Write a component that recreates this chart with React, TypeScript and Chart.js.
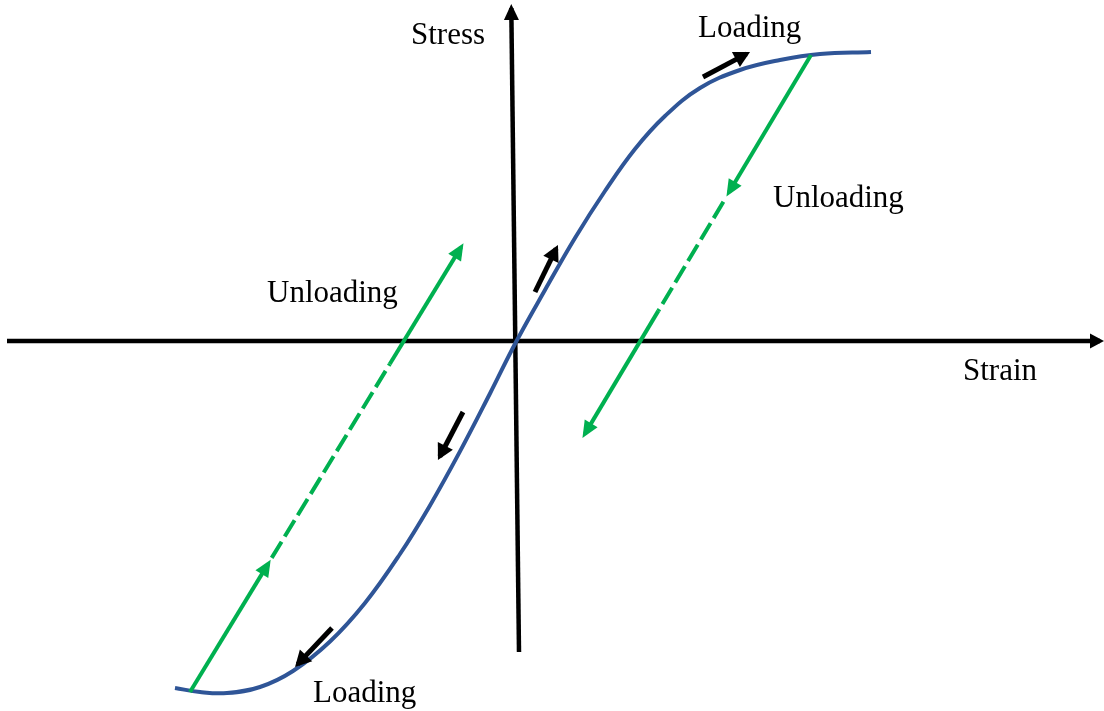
import React, { useEffect, useRef } from "react";
import { Chart, registerables } from "chart.js";

Chart.register(...registerables);

// Hysteresis curve (strain, stress) in arbitrary units
const curveStrain = [-3.41, -3.16, -2.89, -2.56, -2.23, -1.86, -1.51, -1.16, -0.86, -0.56, -0.26, 0, 0.29, 0.59, 0.89, 1.19, 1.49, 1.84, 2.24, 2.64, 3.04, 3.55];
const curveStress = [-3.47, -3.51, -3.52, -3.46, -3.3, -3.005, -2.62, -2.13, -1.644, -1.104, -0.525, -0.01, 0.51, 1.03, 1.5, 1.92, 2.25, 2.53, 2.71, 2.81, 2.87, 2.89];

// Axes
const strainAxisX = [-5.09, 5.84];
const strainAxisY = [0, 0];
const stressAxisX = [0.03, -0.047];
const stressAxisY = [-3.11, 3.33];

// Unloading path (upper right): solid, dashed, solid
const unloadUpperSolidAX = [2.95, 2.13];
const unloadUpperSolidAY = [2.86, 1.487];
const unloadUpperDashX = [2.074, 1.423];
const unloadUpperDashY = [1.392, 0.301];
const unloadUpperSolidBX = [1.423, 0.69];
const unloadUpperSolidBY = [0.301, -0.926];

// Unloading path (lower left): solid, dashed, solid
const unloadLowerSolidAX = [-3.26, -2.479];
const unloadLowerSolidAY = [-3.51, -2.229];
const unloadLowerDashX = [-2.443, -1.262];
const unloadLowerDashY = [-2.169, -0.23];
const unloadLowerSolidBX = [-1.262, -0.551];
const unloadLowerSolidBY = [-0.23, 0.936];

// Direction arrows along the loading curve
const dirArrowStartX = [1.87, 0.19, -0.53, -1.84];
const dirArrowStartY = [2.64, 0.49, -0.71, -2.87];
const dirArrowEndX = [2.305, 0.402, -0.762, -2.182];
const dirArrowEndY = [2.871, 0.924, -1.155, -3.231];

// Labels
const labelTexts = ["Stress", "Loading", "Unloading", "Unloading", "Strain", "Loading"];
const labelX = [-1.05, 1.82, 2.57, -2.49, 4.47, -2.03];
const labelY = [2.97, 3.04, 1.34, 0.39, -0.39, -3.61];

const BLUE = "#2F5597";
const GREEN = "#00B050";
const BLACK = "#000000";

const toPts = (xs: number[], ys: number[]) => xs.map((x, i) => ({ x, y: ys[i] }));

const arrowPlugin = {
  id: "arrowsAndLabels",
  afterDatasetsDraw(chart: any) {
    const ctx = chart.ctx as CanvasRenderingContext2D;
    chart.data.datasets.forEach((ds: any, i: number) => {
      const head = ds.arrowHead;
      if (!head) return;
      const pts = chart.getDatasetMeta(i).data;
      const a = pts[pts.length - 2];
      const b = pts[pts.length - 1];
      const ang = Math.atan2(b.y - a.y, b.x - a.x);
      const c = Math.cos(ang), s = Math.sin(ang);
      const tx = b.x + head.over * c, ty = b.y + head.over * s;
      const bx = tx - head.len * c, by = ty - head.len * s;
      ctx.save();
      ctx.fillStyle = ds.borderColor;
      ctx.beginPath();
      ctx.moveTo(tx, ty);
      ctx.lineTo(bx - (head.width / 2) * s, by + (head.width / 2) * c);
      ctx.lineTo(bx + (head.width / 2) * s, by - (head.width / 2) * c);
      ctx.closePath();
      ctx.fill();
      ctx.restore();
    });
    const xs = chart.scales.x, ys = chart.scales.y;
    ctx.save();
    ctx.fillStyle = "#000";
    ctx.font = '31px "Liberation Serif", "Times New Roman", serif';
    ctx.textAlign = "left";
    ctx.textBaseline = "alphabetic";
    labelTexts.forEach((t, i) => {
      ctx.fillText(t, xs.getPixelForValue(labelX[i]), ys.getPixelForValue(labelY[i]));
    });
    ctx.restore();
  },
};

export default function App() {
  const ref = useRef<HTMLCanvasElement | null>(null);
  useEffect(() => {
    document.body.style.margin = "0";
    const greenHead = { len: 17, width: 15, over: 5 };
    const blackHead = { len: 16, width: 17, over: 4 };
    const line = (data: any, color: string, width: number, order: number, extra: any = {}) => ({
      data,
      borderColor: color,
      backgroundColor: color,
      borderWidth: width,
      pointRadius: 0,
      fill: false,
      tension: 0,
      order,
      borderCapStyle: "butt",
      ...extra,
    });
    const datasets: any[] = [
      line(toPts(strainAxisX, strainAxisY), BLACK, 4.5, 9, { arrowHead: { len: 14, width: 15, over: 4 } }),
      line(toPts(stressAxisX, stressAxisY), BLACK, 4.5, 9, { arrowHead: { len: 16, width: 15, over: 4 } }),
      line(toPts(curveStrain, curveStress), BLUE, 4, 8, { tension: 0.4 }),
      line(toPts(unloadUpperSolidAX, unloadUpperSolidAY), GREEN, 4, 7, { arrowHead: greenHead }),
      line(toPts(unloadUpperDashX, unloadUpperDashY), GREEN, 4, 7, { borderDash: [19, 6] }),
      line(toPts(unloadUpperSolidBX, unloadUpperSolidBY), GREEN, 4, 7, { arrowHead: greenHead }),
      line(toPts(unloadLowerSolidAX, unloadLowerSolidAY), GREEN, 4, 7, { arrowHead: greenHead }),
      line(toPts(unloadLowerDashX, unloadLowerDashY), GREEN, 4, 7, { borderDash: [19, 6] }),
      line(toPts(unloadLowerSolidBX, unloadLowerSolidBY), GREEN, 4, 7, { arrowHead: greenHead }),
    ];
    dirArrowStartX.forEach((_, i) => {
      datasets.push(
        line(
          toPts([dirArrowStartX[i], dirArrowEndX[i]], [dirArrowStartY[i], dirArrowEndY[i]]),
          BLACK,
          5,
          6,
          { arrowHead: blackHead }
        )
      );
    });
    const chart = new Chart(ref.current as HTMLCanvasElement, {
      type: "line",
      data: { datasets },
      options: {
        animation: false,
        responsive: false,
        maintainAspectRatio: false,
        layout: { padding: 0 },
        plugins: { legend: { display: false }, tooltip: { enabled: false } },
        scales: {
          x: { type: "linear", min: -5.16, max: 5.88, display: false },
          y: { type: "linear", min: -3.7, max: 3.41, display: false },
        },
      },
      plugins: [arrowPlugin],
    } as any);
    return () => chart.destroy();
  }, []);
  return (
    <div style={{ width: 1104, height: 711, background: "#fff" }}>
      <canvas ref={ref} width={1104} height={711} style={{ display: "block" }} />
    </div>
  );
}
